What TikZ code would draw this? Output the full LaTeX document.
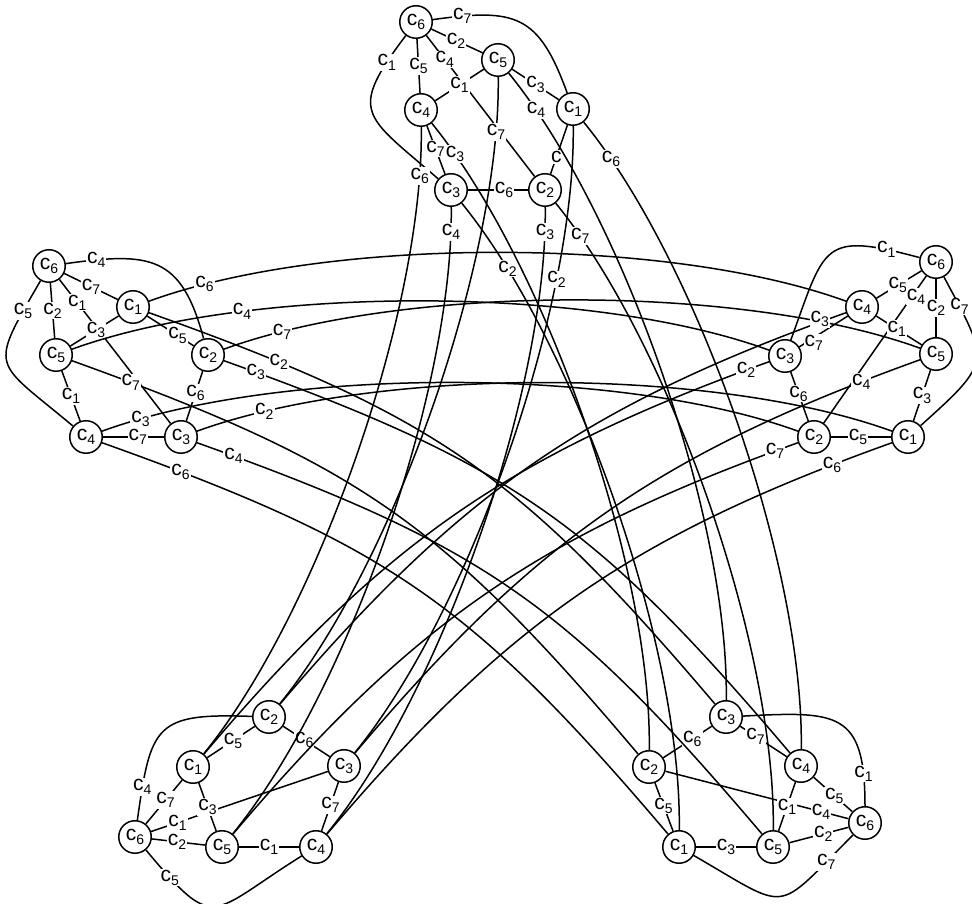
\documentclass[tikz,border=0pt]{standalone}
\usepackage{fontspec}
\setmainfont{Liberation Sans}
\usetikzlibrary{calc,positioning}
\newcommand{\clr}[1]{c\raisebox{-.2em}{\fontsize{14}{14}\selectfont #1}}
\tikzset{vert/.style={circle,draw,line width=1.5pt,fill=white,minimum size=32.5pt,inner sep=0pt,font=\fontsize{21}{21}\selectfont},
 lab/.style={fill=white,inner sep=1pt,font=\fontsize{21}{21}\selectfont},
 edge/.style={line width=1.5pt}}
\begin{document}
\begin{tikzpicture}[x=1pt,y=1pt]
\useasboundingbox (0,0) rectangle (972,904);
% the five clusters
\foreach \n/\x/\y/\k in {t6/416/882/6,t5/498/844/5,t1/573/795/1,t4/421/794/4,t3/451/714/3,t2/545/714/2,
 l6/49/638/6,l1/133/597/1,l5/56/549/5,l2/208/549/2,l4/86/467/4,l3/181/467/3,
 r6/936/642/6,r4/862/597/4,r5/936/550/5,r3/785/548/3,r2/814/467/2,r1/908/467/1,
 b2/269/187/2,b1/193/137/1,b3/344/138/3,b6/135/67/6,b5/222/57/5,b4/316/57/4,
 d3/726/187/3,d2/649/137/2,d4/801/138/4,d6/865/81/6,d1/679/57/1,d5/773/57/5}
 \node[vert] (\n) at (\x,\y) {\clr{\k}};
% hub edges
\foreach \a/\b/\k/\p in {t6/t2/4/.17,l6/l3/1/.16,b3/b6/1/.85,d2/d6/4/.85,
 t6/t5/2/.48,t6/t4/5/.5,l6/l1/7/.5,l6/l5/2/.5,r6/r4/5/.53,r6/r5/2/.5,b1/b6/7/.46,b6/b5/2/.47,d4/d6/5/.53,d5/d6/2/.57}
 \draw[edge] (\a) -- node[lab,pos=\p] (\a\b) {\clr{\k}} (\b);
\draw[edge] (r6) -- node[lab,pos=.14,xshift=4pt] (r6r2) {\clr{4}} (r2);
\draw[edge] (t6) to[out=8,in=110,looseness=1.4] node[lab,pos=.13] (t6t1) {\clr{7}} (t1);
\draw[edge] (t6) to[out=233,in=139,looseness=1.7] node[lab,pos=.13] (t6t3) {\clr{1}} (t3);
\draw[edge] (l6) to[out=8,in=105,looseness=1.4] node[lab,pos=.13] (l6l2) {\clr{4}} (l2);
\draw[edge] (l6) to[out=240,in=140,looseness=1.8] node[lab,pos=.13] (l6l4) {\clr{5}} (l4);
\draw[edge] (r6) to[out=165,in=70,looseness=1.7] node[lab,pos=.13] (r6r3) {\clr{1}} (r3);
\draw[edge] (r6) to[out=-62,in=42,looseness=1.65] node[lab,pos=.13] (r6r1) {\clr{7}} (r1);
\draw[edge] (b6) to[out=82,in=178,looseness=1.6] node[lab,pos=.13] (b6b2) {\clr{4}} (b2);
\draw[edge] (b6) to[out=-50,in=212,looseness=1.8] node[lab,pos=.13] (b6b4) {\clr{5}} (b4);
\draw[edge] (d6) to[out=90,in=3,looseness=1.6] node[lab,pos=.13] (d6d3) {\clr{1}} (d3);
\draw[edge] (d6) to[out=225,in=-30,looseness=1.8] node[lab,pos=.13] (d6d1) {\clr{7}} (d1);
% cycle edges
\foreach \a/\b/\k/\p in {t5/t1/3/.5,t5/t4/1/.5,t4/t3/7/.47,t3/t2/6/.6,
 l1/l5/3/.47,l1/l2/5/.65,l5/l4/1/.5,l4/l3/7/.57,l2/l3/6/.44,
 r4/r5/1/.45,r5/r1/3/.5,r3/r2/6/.44,r2/r1/5/.45,
 b2/b1/5/.46,b2/b3/6/.45,b1/b5/3/.5,b5/b4/1/.5,b3/b4/7/.47,
 d3/d2/6/.4,d3/d4/7/.33,d2/d1/5/.47,d1/d5/3/.5,d5/d4/1/.5}
 \draw[edge] (\a) -- node[lab,pos=\p] (\a\b) {\clr{\k}} (\b);
\draw[edge] (r3) -- node[lab,pos=.3,yshift=-5pt] (r3r4) {\clr{7}} (r4);
\draw[edge] (t2) -- node[lab,pos=.35] (t2t1) {c} (t1);
% long edges
\foreach \a/\b/\k/\p in {l1/r4/6/.096,l2/r5/7/.10,l5/r3/4/.265,l3/r1/2/.115,l4/r2/3/.068,
 t1/d4/6/.08,t2/d5/7/.072,t3/d1/2/.135,t4/d2/3/.068,t5/d3/4/.08,
 t1/b3/2/.248,t2/b4/3/.045,t3/b5/4/.045,t4/b1/6/.085,t5/b2/7/.095}
 \draw[edge] (\a) to[bend left=20,looseness=.7] node[lab,pos=\p] (\a\b) {\clr{\k}} (\b);
\foreach \a/\b/\k/\p in {l1/d3/2/.17,l2/d4/3/.038,l3/d5/4/.044,l4/d1/6/.098,l5/d2/7/.072}
 \draw[edge] (\a) to[bend left=15,looseness=1.13] node[lab,pos=\p] (\a\b) {\clr{\k}} (\b);
\foreach \a/\b/\k/\p in {r1/b4/6/.08,r2/b5/7/.03,r3/b1/2/.03,r5/b3/4/.078}
 \draw[edge] (\a) to[bend right=15,looseness=1.03] node[lab,pos=\p] (\a\b) {\clr{\k}} (\b);
\draw[edge] (r4) to[bend right=15,looseness=1.03] node[lab,pos=.034,yshift=3pt] (r4b2) {\clr{3}} (b2);
\end{tikzpicture}
\end{document}
